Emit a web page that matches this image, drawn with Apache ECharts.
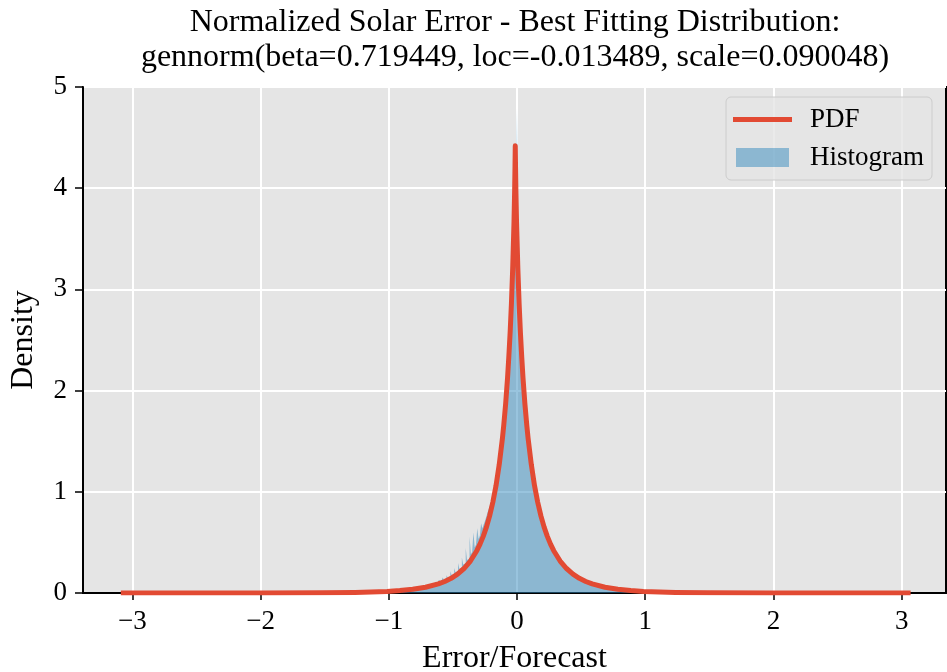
<!DOCTYPE html>
<html>
<head>
<meta charset="utf-8">
<script src="https://cdn.jsdelivr.net/npm/echarts@6/dist/echarts.min.js"></script>
<style>html,body{margin:0;padding:0;background:#fff;}#chart{width:947px;height:672px;}</style>
</head>
<body>
<div id="chart"></div>
<script>
// ---- data ----
const titleLines = ['Normalized Solar Error - Best Fitting Distribution:', 'gennorm(beta=0.719449, loc=-0.013489, scale=0.090048)'];
const xTicks = [-3, -2, -1, 0, 1, 2, 3];
const yTicks = [0, 1, 2, 3, 4, 5];
// histogram: bins of equal width starting at binStart
const binStart = -0.90;
const binWidth = 0.01;
const histValues = [
  0.027, 0.028, 0.030, 0.031, 0.033, 0.034, 0.036, 0.037, 0.039, 0.041,
  0.043, 0.046, 0.048, 0.051, 0.054, 0.057, 0.060, 0.063, 0.066, 0.070,
  0.073, 0.077, 0.081, 0.093, 0.088, 0.092, 0.112, 0.099, 0.104, 0.128,
  0.113, 0.119, 0.152, 0.131, 0.137, 0.176, 0.151, 0.160, 0.215, 0.177,
  0.186, 0.248, 0.206, 0.218, 0.296, 0.240, 0.251, 0.352, 0.281, 0.295,
  0.445, 0.326, 0.340, 0.560, 0.383, 0.404, 0.598, 0.452, 0.476, 0.640,
  0.534, 0.566, 0.690, 0.638, 0.676, 0.712, 0.752, 0.796, 0.832, 0.871,
  0.912, 0.964, 1.012, 1.076, 1.138, 1.205, 1.288, 1.372, 1.475, 1.588,
  1.716, 1.862, 2.031, 2.224, 2.452, 2.716, 3.043, 3.462, 4.028, 3.620,
  4.790, 2.780, 2.490, 2.260, 2.050, 1.870, 1.720, 1.590, 1.460, 1.350,
  1.250, 1.160, 1.080, 1.010, 0.940, 0.875, 0.820, 0.770, 0.720, 0.676,
  0.635, 0.598, 0.561, 0.529, 0.498, 0.470, 0.443, 0.418, 0.395, 0.374,
  0.353, 0.334, 0.316, 0.299, 0.284, 0.269, 0.255, 0.242, 0.230, 0.218,
  0.207, 0.197, 0.187, 0.178, 0.170, 0.162, 0.154, 0.147, 0.140, 0.134,
  0.127, 0.121, 0.116, 0.110, 0.105, 0.100, 0.096, 0.091, 0.087, 0.083,
  0.079, 0.076, 0.072, 0.069, 0.066, 0.063, 0.060, 0.057, 0.055, 0.052,
  0.050, 0.048, 0.046, 0.044, 0.042, 0.040, 0.038, 0.036, 0.035, 0.033,
  0.032, 0.030, 0.029, 0.028, 0.027, 0.026, 0.025, 0.024, 0.023, 0.022
];
// fitted PDF curve
const pdfX = [
  -3.09, -2.5135, -2.0135, -1.5135, -1.2635, -1.0135, -0.9135, -0.8135, -0.7135, -0.6135,
  -0.5635, -0.5135, -0.4635, -0.4135, -0.3635, -0.3135, -0.2885, -0.2635, -0.2385, -0.2135,
  -0.1885, -0.1635, -0.1385, -0.1135, -0.1035, -0.0885, -0.0735, -0.0635, -0.0535, -0.0435,
  -0.0335, -0.0235, -0.0185, -0.0155, -0.0145, -0.0135,
  -0.0125, -0.0115, -0.0085, -0.0035, 0.0065, 0.0165, 0.0265, 0.0365, 0.0465, 0.0615,
  0.0765, 0.0865, 0.1115, 0.1365, 0.1615, 0.1865, 0.2115, 0.2365, 0.2615, 0.2865,
  0.3365, 0.3865, 0.4365, 0.4865, 0.5365, 0.5865, 0.6865, 0.7865, 0.8865, 0.9865,
  1.2365, 1.4865, 1.9865, 2.4865, 3.07
];
const pdfY = [
  0.0, 0.0001, 0.0004, 0.0023, 0.0059, 0.0158, 0.024, 0.0365, 0.057, 0.090,
  0.114, 0.145, 0.187, 0.242, 0.316, 0.418, 0.483, 0.560, 0.651, 0.762,
  0.897, 1.062, 1.27, 1.53, 1.655, 1.87, 2.13, 2.34, 2.575, 2.86,
  3.21, 3.66, 3.97, 4.22, 4.32, 4.42,
  4.32, 4.22, 3.97, 3.66, 3.21, 2.86, 2.575, 2.34, 2.13, 1.87,
  1.655, 1.53, 1.27, 1.062, 0.897, 0.762, 0.651, 0.560, 0.483, 0.418,
  0.316, 0.242, 0.187, 0.145, 0.114, 0.090, 0.057, 0.0365, 0.024, 0.0158,
  0.0059, 0.0023, 0.0004, 0.0001, 0.0
];

// ---- build ----
const histData = histValues.map((v, i) => [binStart + i * binWidth, v]);
histData.push([binStart + histValues.length * binWidth, 0]);
const pdfData = pdfX.map((x, i) => [x, pdfY[i]]);

const FONT = 'Liberation Serif';
const minus = v => String(v).replace('-', '\u2212');

const chart = echarts.init(document.getElementById('chart'), null, {renderer: 'canvas'});
chart.setOption({
  animation: false,
  backgroundColor: '#ffffff',
  title: {
    text: titleLines.join('\n'),
    left: 515,
    textAlign: 'center',
    top: 5,
    padding: 0,
    textStyle: {fontFamily: FONT, fontSize: 32, fontWeight: 'normal', color: '#000', lineHeight: 35}
  },
  legend: {
    orient: 'vertical',
    left: 726,
    top: 97,
    padding: [9, 8, 9, 7],
    itemGap: 11,
    itemWidth: 72,
    itemHeight: 19,
    backgroundColor: 'rgba(229,229,229,0.8)',
    borderColor: '#CCCCCC',
    borderWidth: 1,
    borderRadius: 5,
    textStyle: {fontFamily: FONT, fontSize: 27, color: '#000'},
    data: [
      {name: 'PDF', icon: 'path://M0,0M0,7H59V12H0ZM72,19', itemStyle: {color: '#E24A33', borderWidth: 0}},
      {name: 'Histogram', icon: 'path://M0,0M3,0H56V19H3ZM72,19', itemStyle: {color: 'rgba(52,138,189,0.5)', borderWidth: 0}}
    ]
  },
  grid: {
    left: 83, right: 1, top: 87, bottom: 79,
    containLabel: false,
    outerBoundsMode: 'none',
    show: true, backgroundColor: '#E5E5E5', borderColor: '#000', borderWidth: 2
  },
  xAxis: {
    type: 'value',
    min: -3.385, max: 3.346,
    name: 'Error/Forecast',
    nameLocation: 'middle',
    nameGap: 50,
    nameTextStyle: {fontFamily: FONT, fontSize: 32, color: '#000'},
    axisLine: {show: true, onZero: false, lineStyle: {color: '#000', width: 2}},
    axisTick: {show: true, customValues: xTicks, length: 7, lineStyle: {color: '#000', width: 1.5}},
    axisLabel: {customValues: xTicks, fontFamily: FONT, fontSize: 27, color: '#000', margin: 15, formatter: minus},
    splitLine: {show: true, customValues: xTicks, lineStyle: {color: '#ffffff', width: 2}}
  },
  yAxis: {
    type: 'value',
    min: yTicks[0], max: yTicks[yTicks.length - 1], interval: 1,
    name: 'Density',
    nameLocation: 'middle',
    nameGap: 43,
    nameTextStyle: {fontFamily: FONT, fontSize: 32, color: '#000'},
    axisLine: {show: true, onZero: false, lineStyle: {color: '#000', width: 2}},
    axisTick: {show: true, length: 8, lineStyle: {color: '#000', width: 1.5}},
    axisLabel: {fontFamily: FONT, fontSize: 27, color: '#000', margin: 16},
    splitLine: {show: true, lineStyle: {color: '#ffffff', width: 2}}
  },
  series: [
    {
      name: 'Histogram',
      type: 'line',
      step: 'end',
      data: histData,
      symbol: 'none',
      itemStyle: {color: 'rgba(52,138,189,0.5)'},
      lineStyle: {width: 0, opacity: 0},
      areaStyle: {color: 'rgba(52,138,189,0.5)', opacity: 1},
      z: 2
    },
    {
      name: 'PDF',
      type: 'line',
      data: pdfData,
      symbol: 'none',
      smooth: false,
      itemStyle: {color: '#E24A33'},
      lineStyle: {color: '#E24A33', width: 5, join: 'round', cap: 'butt'},
      z: 3
    }
  ]
});
</script>
</body>
</html>
